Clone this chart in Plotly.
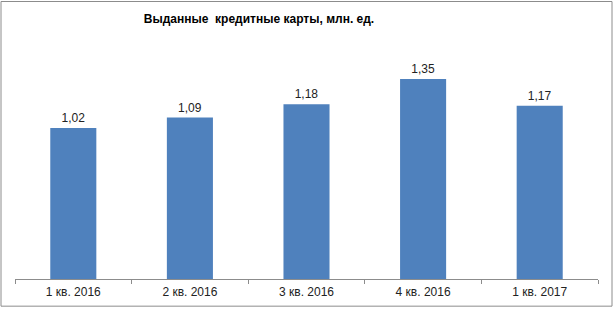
import plotly.graph_objects as go

categories = ["1 кв. 2016", "2 кв. 2016", "3 кв. 2016", "4 кв. 2016", "1 кв. 2017"]
values = [1.02, 1.09, 1.18, 1.35, 1.17]
title_text = "Выданные\u00a0 кредитные карты, млн. ед."

W, H = 616, 311
L, R, T, B = 15, 18, 42, 29
pw, ph = W - L - R, H - T - B

def px_x(p):
    return (p - L) / pw

def px_y(p):
    return (H - B - p) / ph

fig = go.Figure(go.Bar(
    x=categories, y=values,
    marker=dict(color="#4F81BD", line=dict(width=0)),
    width=0.395,
    texttemplate="%{y:.2f}", textposition="outside",
    textfont=dict(family="Liberation Sans, Arial", size=12, color="#222222"),
    cliponaxis=False,
))

fig.update_layout(
    width=W, height=H,
    margin=dict(l=L, r=R, t=T, b=B),
    paper_bgcolor="white", plot_bgcolor="white",
    separators=", ",
    showlegend=False,
    title=dict(text="<b>" + title_text + "</b>", x=259 / W, xanchor="center",
               xref="container", y=1 - 19 / H, yanchor="middle", yref="container",
               font=dict(family="Liberation Sans, Arial", size=12, color="#000000")),
    xaxis=dict(showline=True, linecolor="#8c8c8c", linewidth=1,
               ticks="outside", tickson="boundaries", ticklen=4, tickcolor="#8c8c8c",
               ticklabelstandoff=2,
               tickfont=dict(family="Liberation Sans, Arial", size=12, color="#222222"),
               showgrid=False, zeroline=False, fixedrange=True),
    yaxis=dict(range=[0, 1.6], visible=False, showgrid=False, zeroline=False),
    shapes=[dict(type="rect", xref="paper", yref="paper",
                 x0=px_x(1), x1=px_x(612), y0=px_y(309.5), y1=px_y(1),
                 line=dict(color="#8c8c8c", width=1), fillcolor="rgba(0,0,0,0)")],
)

fig.write_html("out.html")
